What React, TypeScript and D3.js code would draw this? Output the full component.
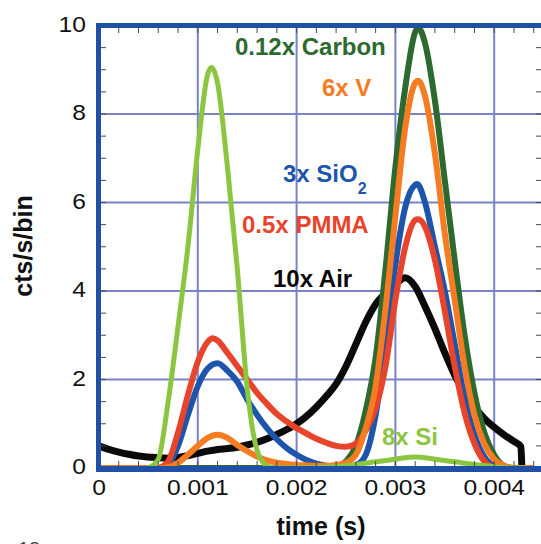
import React from "react";
import * as d3 from "d3";

// Time-of-flight spectra, scaled per sample (time in seconds, counts/s/bin)
const airT = [0, 0.0001, 0.0002, 0.0003, 0.0004, 0.0005, 0.0006, 0.0007, 0.0008, 0.0009, 0.001, 0.0011, 0.0012, 0.0013, 0.0014, 0.0015, 0.0016, 0.0017, 0.0018, 0.0019, 0.002, 0.0021, 0.0022, 0.0023, 0.0024, 0.0025, 0.0026, 0.0027, 0.0028, 0.0029, 0.003, 0.0031, 0.0032, 0.0033, 0.0034, 0.0035, 0.0036, 0.0037, 0.0038, 0.0039, 0.004, 0.0041, 0.0042, 0.00427, 0.00428];
const airV = [0.5, 0.42, 0.36, 0.31, 0.27, 0.25, 0.23, 0.22, 0.24, 0.28, 0.33, 0.38, 0.42, 0.44, 0.47, 0.52, 0.58, 0.66, 0.76, 0.87, 1.0, 1.17, 1.38, 1.62, 1.9, 2.3, 2.8, 3.3, 3.7, 3.95, 4.15, 4.3, 4.1, 3.65, 3.15, 2.6, 2.1, 1.7, 1.38, 1.12, 0.92, 0.75, 0.6, 0.48, 0];

const carbonT = [0, 0.0023, 0.0024, 0.0025, 0.0026, 0.0027, 0.0028, 0.0029, 0.003, 0.0031, 0.0032, 0.00323, 0.0033, 0.0034, 0.0035, 0.0036, 0.0037, 0.0038, 0.0039, 0.004, 0.0041, 0.0042, 0.0044];
const carbonV = [0, 0, 0.02, 0.15, 0.5, 1.3, 2.5, 4.5, 6.8, 8.6, 9.85, 9.95, 9.6, 8.3, 6.5, 4.7, 3.0, 1.7, 0.8, 0.3, 0.05, 0, 0];

const sio2T = [0, 0.0006, 0.0007, 0.0008, 0.0009, 0.001, 0.0011, 0.0012, 0.0013, 0.0014, 0.0015, 0.0016, 0.0017, 0.0018, 0.0019, 0.002, 0.0021, 0.0022, 0.0023, 0.0024, 0.0025, 0.0026, 0.0027, 0.0028, 0.0029, 0.003, 0.0031, 0.0032, 0.00322, 0.0033, 0.0034, 0.0035, 0.0036, 0.0037, 0.0038, 0.0039, 0.004, 0.0041, 0.0044];
const sio2V = [0, 0, 0.08, 0.5, 1.2, 1.85, 2.25, 2.37, 2.2, 1.95, 1.55, 1.2, 0.9, 0.65, 0.45, 0.3, 0.18, 0.1, 0.05, 0.02, 0.02, 0.06, 0.3, 1.2, 2.8, 4.6, 5.9, 6.4, 6.42, 6.0, 5.0, 4.0, 2.8, 1.6, 0.75, 0.25, 0.05, 0, 0];

const pmmaT = [0, 0.0006, 0.0007, 0.0008, 0.0009, 0.001, 0.0011, 0.00115, 0.0012, 0.0013, 0.0014, 0.0015, 0.0016, 0.0017, 0.0018, 0.0019, 0.002, 0.0021, 0.0022, 0.0023, 0.0024, 0.0025, 0.0026, 0.0027, 0.0028, 0.0029, 0.003, 0.0031, 0.0032, 0.00323, 0.0033, 0.0034, 0.0035, 0.0036, 0.0037, 0.0038, 0.0039, 0.004, 0.0041, 0.0044];
const pmmaV = [0, 0, 0.15, 0.8, 1.65, 2.4, 2.85, 2.93, 2.88, 2.6, 2.3, 2.0, 1.7, 1.45, 1.22, 1.05, 0.9, 0.78, 0.66, 0.57, 0.5, 0.48, 0.55, 0.85, 1.35, 2.3, 3.8, 5.0, 5.6, 5.62, 5.45, 4.7, 3.55, 2.3, 1.25, 0.55, 0.15, 0.02, 0, 0];

const vanT = [0, 0.0006, 0.0007, 0.0008, 0.0009, 0.001, 0.0011, 0.0012, 0.0013, 0.0014, 0.0015, 0.0016, 0.0017, 0.0018, 0.0019, 0.002, 0.0021, 0.0022, 0.0023, 0.0024, 0.0025, 0.0026, 0.0027, 0.0028, 0.0029, 0.003, 0.0031, 0.0032, 0.00323, 0.0033, 0.0034, 0.0035, 0.0036, 0.0037, 0.0038, 0.0039, 0.004, 0.0041, 0.0042, 0.0044];
const vanV = [0, 0, 0.02, 0.12, 0.3, 0.5, 0.68, 0.75, 0.68, 0.52, 0.38, 0.26, 0.17, 0.12, 0.09, 0.07, 0.06, 0.05, 0.05, 0.07, 0.12, 0.3, 0.9, 1.85, 3.6, 5.7, 7.7, 8.7, 8.75, 8.4, 7.1, 5.3, 3.8, 2.3, 1.2, 0.55, 0.2, 0.05, 0, 0];

const siT = [0.0005, 0.0006, 0.0007, 0.0008, 0.0009, 0.001, 0.0011, 0.00114, 0.0012, 0.0013, 0.0014, 0.0015, 0.0016, 0.0017, 0.0018, 0.0024, 0.0026, 0.0028, 0.003, 0.0032, 0.0034, 0.0036, 0.0038, 0.004, 0.0042, 0.0043];
const siV = [0, 0.2, 1.5, 3.2, 5.0, 7.2, 8.9, 9.05, 8.7, 6.8, 4.5, 1.8, 0.4, 0.05, 0, 0.03, 0.08, 0.14, 0.2, 0.25, 0.2, 0.14, 0.08, 0.03, 0, 0];

const xTicks = [0, 0.001, 0.002, 0.003, 0.004];
const xTickLabels = ["0", "0.001", "0.002", "0.003", "0.004"];
const yTicks = [0, 2, 4, 6, 8, 10];
const yTickLabels = ["0", "2", "4", "6", "8", "10"];

const W = 541;
const H = 544;
const FONT = "'Liberation Sans', Arial, Helvetica, sans-serif";

const x = d3.scaleLinear().domain([0, 0.0045]).range([99, 543.6]);
const y = d3.scaleLinear().domain([0, 10]).range([468, 25.5]);

const line = d3
  .line<[number, number]>()
  .x((d) => x(d[0]))
  .y((d) => y(d[1]))
  .curve(d3.curveMonotoneX);

const zip = (t: number[], v: number[]) => t.map((ti, i) => [ti, v[i]] as [number, number]);

const series = [
  { t: airT, v: airV, color: "#0a0a0a", width: 7 },
  { t: carbonT, v: carbonV, color: "#2c6a2f", width: 6 },
  { t: sio2T, v: sio2V, color: "#1d55ad", width: 6 },
  { t: pmmaT, v: pmmaV, color: "#e8432b", width: 6 },
  { t: vanT, v: vanV, color: "#f57c22", width: 6 },
  { t: siT, v: siV, color: "#8cc540", width: 5 },
];

const GRID = "#7a82c8";
const FRAME = "#1f50a6";
const TICK = "#4a4a4a";
const SX = 1.12;

export default function App() {
  const minorX = d3.range(0, 0.00451, 0.0002);
  const minorY = d3.range(0, 10.01, 0.5);
  return (
    <svg
      width={W}
      height={H}
      viewBox={`0 0 ${W} ${H}`}
      style={{ position: "absolute", left: 0, top: 0, background: "#fff" }}
      fontFamily={FONT}
    >
      <rect x={0} y={0} width={W} height={H} fill="#fff" />

      {/* major grid */}
      {xTicks.slice(1).map((t) => (
        <line key={"gx" + t} x1={x(t)} x2={x(t)} y1={y(10)} y2={y(0)} stroke={GRID} strokeWidth={2} />
      ))}
      {yTicks.slice(1, -1).map((v) => (
        <line key={"gy" + v} x1={x(0)} x2={W} y1={y(v)} y2={y(v)} stroke={GRID} strokeWidth={2} />
      ))}

      {/* spectra */}
      {series.map((s, i) => (
        <path
          key={i}
          d={line(zip(s.t, s.v)) || ""}
          fill="none"
          stroke={s.color}
          strokeWidth={s.width}
          strokeLinejoin="round"
        />
      ))}

      {/* minor ticks on all four sides */}
      {minorX.map((t, i) => (
        <g key={"tx" + i}>
          <line x1={x(t)} x2={x(t)} y1={28} y2={33} stroke={TICK} strokeWidth={1} />
          <line x1={x(t)} x2={x(t)} y1={466} y2={461} stroke={TICK} strokeWidth={1} />
        </g>
      ))}
      {minorY.map((v, i) => (
        <g key={"ty" + i}>
          <line x1={101} x2={106} y1={y(v)} y2={y(v)} stroke={TICK} strokeWidth={1} />
          <line x1={541} x2={536} y1={y(v)} y2={y(v)} stroke={TICK} strokeWidth={1} />
        </g>
      ))}

      {/* frame */}
      <line x1={96} x2={W} y1={25.5} y2={25.5} stroke={FRAME} strokeWidth={5} />
      <line x1={98.5} x2={98.5} y1={23} y2={472} stroke={FRAME} strokeWidth={5} />
      <line x1={96} x2={W} y1={469} y2={469} stroke={FRAME} strokeWidth={6} />

      {/* tick labels */}
      {yTicks.map((v, i) => (
        <text
          key={"ly" + v}
          transform={`translate(86,${y(v) + 6}) scale(${SX},1)`}
          textAnchor="end"
          fontSize={22}
          fill="#111"
        >
          {yTickLabels[i]}
        </text>
      ))}
      {xTicks.map((t, i) => (
        <text
          key={"lx" + t}
          transform={`translate(${x(t)},495) scale(${SX},1)`}
          textAnchor="middle"
          fontSize={22}
          fill="#111"
        >
          {xTickLabels[i]}
        </text>
      ))}

      {/* axis titles */}
      <text x={321} y={535} textAnchor="middle" fontSize={25} fontWeight="bold" fill="#111">
        time (s)
      </text>
      <text
        transform="translate(32,246) rotate(-90)"
        textAnchor="middle"
        fontSize={25}
        fontWeight="bold"
        fill="#111"
      >
        cts/s/bin
      </text>

      {/* series labels */}
      <g fontSize={24} fontWeight="bold">
        <text x={235} y={55} fill="#2c6a2f">0.12x Carbon</text>
        <text x={322} y={96} fill="#f57c22">6x V</text>
        <text x={283} y={182} fill="#1d55ad">
          3x SiO<tspan dy={12} fontSize={16}>2</tspan>
        </text>
        <text x={242} y={233} fill="#e8432b">0.5x PMMA</text>
        <text x={273} y={287} fill="#0a0a0a">10x Air</text>
        <text x={382} y={445} fill="#8cc540">8x Si</text>
      </g>

      {/* page number peeking at the lower edge */}
      <text x={18} y={556} fontSize={20} fill="#444">18</text>
    </svg>
  );
}
